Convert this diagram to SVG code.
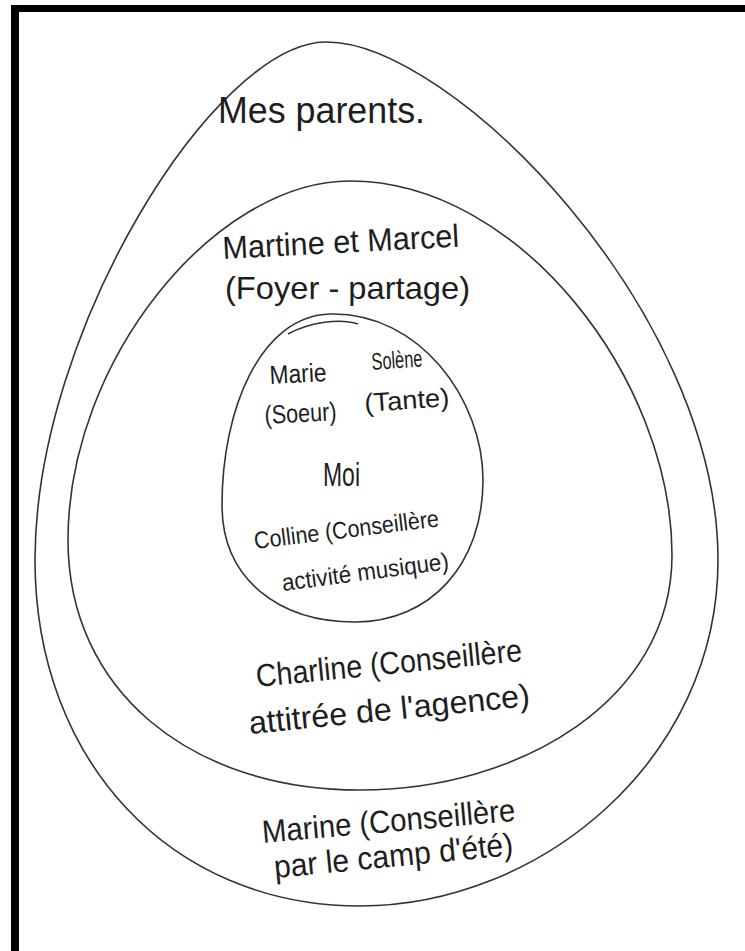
<svg xmlns="http://www.w3.org/2000/svg" width="745" height="951" viewBox="0 0 745 951">
<style>
.ring{fill:none;stroke:#333;stroke-width:1.6;stroke-linejoin:round}
.t{font-family:"Liberation Sans","DejaVu Sans",sans-serif;fill:#1e1e1e}
.s36{font-size:36px}.s32{font-size:32px}.s26{font-size:26px}.s24{font-size:24px}.s34{font-size:34px}
</style>
<rect width="745" height="951" fill="#fff"/>
<g id="frame">
<rect x="11" y="5" width="734" height="7" fill="#000"/>
<rect x="11" y="5" width="8" height="946" fill="#000"/>
</g>
<g id="outer-ring">
<path class="ring" d="M 325 42 C 450 40, 718 310, 718 560 C 718 760, 540 906, 360 906 C 170 906, 35 760, 35 560 C 35 330, 215 44, 325 42 Z"/>
<text class="t s36" x="218" y="123" textLength="207" lengthAdjust="spacingAndGlyphs">Mes parents.</text>
<text class="t s32" x="263" y="843" textLength="254" lengthAdjust="spacingAndGlyphs" transform="rotate(-5 263 843)">Marine (Conseillère</text>
<text class="t s32" x="275" y="878" textLength="240" lengthAdjust="spacingAndGlyphs" transform="rotate(-5.5 275 878)">par le camp d'été)</text>
</g>
<g id="middle-ring">
<path class="ring" d="M 350 181 C 520 181, 672 380, 672 555 C 672 700, 520 790, 360 790 C 190 790, 68 690, 68 540 C 68 360, 215 181, 350 181 Z"/>
<text class="t s32" x="223" y="259" textLength="237" lengthAdjust="spacingAndGlyphs" transform="rotate(-3 223 259)">Martine et Marcel</text>
<text class="t s32" x="225" y="299" textLength="245" lengthAdjust="spacingAndGlyphs">(Foyer - partage)</text>
<text class="t s32" x="257" y="687" textLength="267" lengthAdjust="spacingAndGlyphs" transform="rotate(-5.6 257 687)">Charline (Conseillère</text>
<text class="t s32" x="250" y="734" textLength="282" lengthAdjust="spacingAndGlyphs" transform="rotate(-5.7 250 734)">attitrée de l'agence)</text>
</g>
<g id="inner-ring">
<path class="ring" d="M 330 314 C 420 312, 483 400, 483 480 C 483 565, 430 622, 355 622 C 280 622, 222 580, 222 505 C 222 410, 260 316, 330 314 Z"/>
<path class="ring" d="M 288 334 C 310 322, 340 318, 358 324"/>
<text class="t s26" x="270" y="384" textLength="57" lengthAdjust="spacingAndGlyphs" transform="rotate(-3 270 384)">Marie</text>
<text class="t s24" x="372" y="370" textLength="51" lengthAdjust="spacingAndGlyphs" transform="rotate(-4 372 370)">Solène</text>
<text class="t s26" x="265" y="424" textLength="72" lengthAdjust="spacingAndGlyphs" transform="rotate(-3 265 424)">(Soeur)</text>
<text class="t s26" x="365" y="412" textLength="85" lengthAdjust="spacingAndGlyphs" transform="rotate(-4 365 412)">(Tante)</text>
<text class="t s34" x="323" y="486" textLength="37" lengthAdjust="spacingAndGlyphs">Moi</text>
<text class="t s24" x="255" y="549" textLength="186" lengthAdjust="spacingAndGlyphs" transform="rotate(-7 255 549)">Colline (Conseillère</text>
<text class="t s24" x="283" y="591" textLength="168" lengthAdjust="spacingAndGlyphs" transform="rotate(-7.5 283 591)">activité musique)</text>
</g>
</svg>
